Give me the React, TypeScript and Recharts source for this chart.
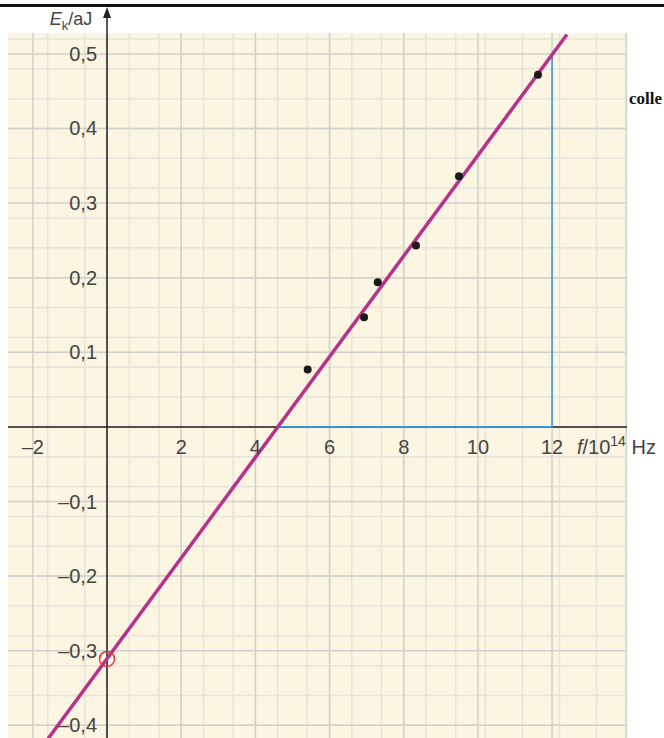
import {
  ComposedChart,
  XAxis,
  YAxis,
  CartesianGrid,
  Line,
  Scatter,
  ReferenceLine,
  ReferenceDot,
} from "recharts";

// measured points: frequency (10^14 Hz) and kinetic energy (aJ)
const freq = [5.41, 6.93, 7.3, 8.33, 9.49, 11.62];
const energy = [0.077, 0.147, 0.194, 0.243, 0.336, 0.472];

// fitted straight line, end points
const fitFreq = [-1.62, 12.4];
const fitEnergy = [-0.42, 0.526];

// blue slope triangle
const slopeFreq = [4.61, 12, 12];
const slopeEnergy = [0, 0, 0.499];

// intercept marker on the energy axis
const interceptFreq = [0];
const interceptEnergy = [-0.311];

const xTicks = [-2, 2, 4, 6, 8, 10, 12];
const xTickLabels = ["–2", "2", "4", "6", "8", "10", "12"];
const yTicks = [-0.4, -0.3, -0.2, -0.1, 0.1, 0.2, 0.3, 0.4, 0.5];
const yTickLabels = ["–0,4", "–0,3", "–0,2", "–0,1", "0,1", "0,2", "0,3", "0,4", "0,5"];

const X_DOMAIN: [number, number] = [-2.67, 14.02];
const Y_DOMAIN: [number, number] = [-0.417, 0.528];

const zip = (xs: number[], ys: number[]) => xs.map((x, i) => ({ x, y: ys[i] }));

const points = zip(freq, energy);
const fitLine = zip(fitFreq, fitEnergy);
const slopeLine = zip(slopeFreq, slopeEnergy);
const intercept = zip(interceptFreq, interceptEnergy);
const xTickData = xTicks.map((x, i) => ({ x, y: 0, label: xTickLabels[i] }));
const yTickData = yTicks.map((y, i) => ({ x: 0, y, label: yTickLabels[i] }));

const range = (from: number, to: number, step: number) => {
  const out: number[] = [];
  const n = Math.round((to - from) / step);
  for (let i = 0; i <= n; i++) out.push(+(from + i * step).toFixed(4));
  return out;
};

const minorX = range(-2.6, 14, 0.2);
const majorX = range(-2, 14, 2);
const minorY = range(-0.41, 0.52, 0.01);
const majorY = range(-0.4, 0.5, 0.1);

const FONT = "'Liberation Sans', Arial, sans-serif";
const TEXT = "#444";

const XTickLabel = (props: any) => (
  <text x={props.cx} y={props.cy + 27} textAnchor="middle" fontSize={20} fontFamily={FONT} fill={TEXT}>
    {props.payload.label}
  </text>
);

const YTickLabel = (props: any) => (
  <text x={props.cx - 10} y={props.cy + 7} textAnchor="end" fontSize={20} fontFamily={FONT} fill={TEXT}>
    {props.payload.label}
  </text>
);

const Dot = (props: any) => <circle cx={props.cx} cy={props.cy} r={4} fill="#1a1a1a" />;

const Ring = (props: any) => (
  <circle cx={props.cx} cy={props.cy} r={7.5} fill="none" stroke="#e8353d" strokeWidth={1.5} />
);

const Arrow = (props: any) => (
  <path d={`M${props.cx},${props.cy} L${props.cx - 4},${props.cy + 11} L${props.cx + 4},${props.cy + 11} Z`} fill="#222" />
);

const EnergyLabel = (props: any) => (
  <text x={props.cx} y={props.cy} textAnchor="end" fontSize={18} fontFamily={FONT} fill={TEXT}>
    <tspan fontStyle="italic">E</tspan>
    <tspan fontSize={13} dy={5}>k</tspan>
    <tspan dy={-5}>/aJ</tspan>
  </text>
);

const FreqLabel = (props: any) => (
  <text x={props.cx} y={props.cy} textAnchor="start" fontSize={20} fontFamily={FONT} fill={TEXT}>
    <tspan fontStyle="italic">f</tspan>
    <tspan>/10</tspan>
    <tspan fontSize={14} dy={-8}>14</tspan>
    <tspan dy={8}> Hz</tspan>
  </text>
);

export default function App() {
  return (
    <div style={{ position: "absolute", left: 0, top: 0, width: 664, height: 738, background: "#fff", overflow: "hidden" }}>
      <div style={{ position: "absolute", left: 0, top: 4, width: 664, height: 3, background: "#111" }} />
      <div
        style={{
          position: "absolute",
          left: 629,
          top: 89,
          fontFamily: "'Liberation Serif', serif",
          fontWeight: "bold",
          fontSize: 17,
          color: "#111",
          whiteSpace: "nowrap",
        }}
      >
        colle
      </div>
      <ComposedChart width={664} height={738} margin={{ top: 33, right: 37, bottom: 0, left: 8 }}>
        <XAxis type="number" dataKey="x" domain={X_DOMAIN} allowDataOverflow hide />
        <YAxis type="number" dataKey="y" domain={Y_DOMAIN} allowDataOverflow hide />
        <CartesianGrid
          fill="#fcf5e1"
          stroke="#e6e3dd"
          strokeWidth={1.5}
          verticalValues={minorX}
          horizontalValues={minorY}
        />
        <CartesianGrid stroke="#d2d0cc" strokeWidth={1.5} verticalValues={majorX} horizontalValues={majorY} />

        <ReferenceLine y={0} stroke="#222" strokeWidth={1.5} />
        <ReferenceLine
          segment={[{ x: 0, y: Y_DOMAIN[0] }, { x: 0, y: 0.555 }]}
          stroke="#222"
          strokeWidth={1.5}
          ifOverflow="visible"
        />
        <ReferenceDot x={0} y={0.563} ifOverflow="visible" shape={Arrow} />
        <ReferenceDot x={-0.4} y={0.539} ifOverflow="visible" shape={EnergyLabel} />
        <ReferenceDot x={12.67} y={-0.0362} ifOverflow="visible" shape={FreqLabel} />

        <Scatter data={xTickData} shape={XTickLabel} isAnimationActive={false} />
        <Scatter data={yTickData} shape={YTickLabel} isAnimationActive={false} />

        <Line
          data={slopeLine}
          dataKey="y"
          type="linear"
          stroke="#3d9ad8"
          strokeWidth={1.6}
          dot={false}
          isAnimationActive={false}
        />
        <Line
          data={fitLine}
          dataKey="y"
          type="linear"
          stroke="#b5338b"
          strokeWidth={3.5}
          dot={false}
          isAnimationActive={false}
        />
        <Scatter data={points} shape={Dot} isAnimationActive={false} />
        <Scatter data={intercept} shape={Ring} isAnimationActive={false} />
      </ComposedChart>
    </div>
  );
}
